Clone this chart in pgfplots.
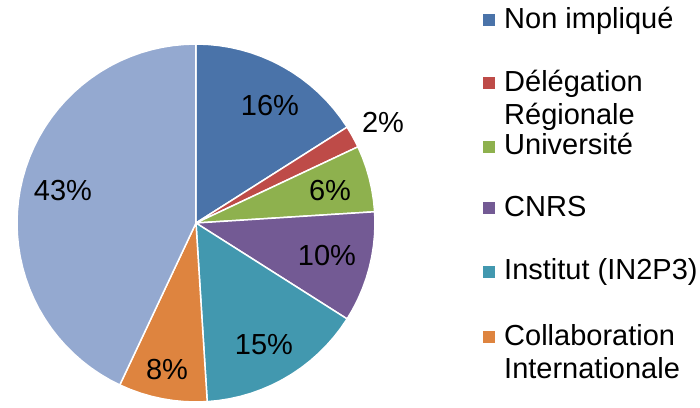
\documentclass[border=0pt]{standalone}
\usepackage{pgfplots}
\pgfplotsset{compat=1.18}
\usepackage{fontspec}
\setmainfont{Liberation Sans}
\definecolor{cA}{HTML}{4A73A9}
\definecolor{cB}{HTML}{BE4B48}
\definecolor{cC}{HTML}{8EB14E}
\definecolor{cD}{HTML}{735A94}
\definecolor{cE}{HTML}{4298AF}
\definecolor{cF}{HTML}{DE843F}
\definecolor{cG}{HTML}{94A9D0}
\begin{document}
\begin{tikzpicture}
\begin{axis}[
  x=179pt, y=179pt,
  xmin=-1.095, xmax=2.816, ymin=-1.028, ymax=1.246,
  hide axis, clip=false,
  every axis plot/.append style={data cs=polar, draw=white, line width=1.5pt, line join=round},
]
% Non implique 16%
\addplot[fill=cA] coordinates {(0,0) (90,1) (86.4,1) (82.8,1) (79.2,1) (75.6,1) (72,1) (68.4,1) (64.8,1) (61.2,1) (57.6,1) (54,1) (50.4,1) (46.8,1) (43.2,1) (39.6,1) (36,1) (32.4,1)} --cycle;
% Delegation Regionale 2%
\addplot[fill=cB] coordinates {(0,0) (32.4,1) (28.8,1) (25.2,1)} --cycle;
% Universite 6%
\addplot[fill=cC] coordinates {(0,0) (25.2,1) (21.6,1) (18,1) (14.4,1) (10.8,1) (7.2,1) (3.6,1)} --cycle;
% CNRS 10%
\addplot[fill=cD] coordinates {(0,0) (3.6,1) (0,1) (-3.6,1) (-7.2,1) (-10.8,1) (-14.4,1) (-18,1) (-21.6,1) (-25.2,1) (-28.8,1) (-32.4,1)} --cycle;
% Institut 15%
\addplot[fill=cE] coordinates {(0,0) (-32.4,1) (-36,1) (-39.6,1) (-43.2,1) (-46.8,1) (-50.4,1) (-54,1) (-57.6,1) (-61.2,1) (-64.8,1) (-68.4,1) (-72,1) (-75.6,1) (-79.2,1) (-82.8,1) (-86.4,1)} --cycle;
% Collaboration Internationale 8%
\addplot[fill=cF] coordinates {(0,0) (-86.4,1) (-90,1) (-93.6,1) (-97.2,1) (-100.8,1) (-104.4,1) (-108,1) (-111.6,1) (-115.2,1)} --cycle;
% remaining 43%
\addplot[fill=cG] coordinates {(0,0) (-115.2,1) (-118.8,1) (-122.4,1) (-126,1) (-129.6,1) (-133.2,1) (-136.8,1) (-140.4,1) (-144,1) (-147.6,1) (-151.2,1) (-154.8,1) (-158.4,1) (-162,1) (-165.6,1) (-169.2,1) (-172.8,1) (-176.4,1) (-180,1) (-183.6,1) (-187.2,1) (-190.8,1) (-194.4,1) (-198,1) (-201.6,1) (-205.2,1) (-208.8,1) (-212.4,1) (-216,1) (-219.6,1) (-223.2,1) (-226.8,1) (-230.4,1) (-234,1) (-237.6,1) (-241.2,1) (-244.8,1) (-248.4,1) (-252,1) (-255.6,1) (-259.2,1) (-262.8,1) (-266.4,1) (-270,1)} --cycle;

% percentage labels
\begin{scope}[every node/.style={font=\fontsize{29}{33}\selectfont, inner sep=0pt}]
\node at (axis cs:0.413,0.659) {16\%};
\node at (axis cs:1.045,0.564) {2\%};
\node at (axis cs:0.749,0.184) {6\%};
\node at (axis cs:0.732,-0.179) {10\%};
\node at (axis cs:0.380,-0.682) {15\%};
\node at (axis cs:-0.162,-0.821) {8\%};
\node at (axis cs:-0.743,0.184) {43\%};
\end{scope}

% legend
\begin{scope}[every node/.style={font=\fontsize{29}{33}\selectfont, inner sep=0pt, anchor=base west}]
\fill[cA] (axis cs:1.637,1.134) ++(-6pt,-6pt) rectangle ++(12pt,12pt);
\fill[cB] (axis cs:1.637,0.782) ++(-6pt,-6pt) rectangle ++(12pt,12pt);
\fill[cC] (axis cs:1.637,0.425) ++(-6pt,-6pt) rectangle ++(12pt,12pt);
\fill[cD] (axis cs:1.637,0.084) ++(-6pt,-6pt) rectangle ++(12pt,12pt);
\fill[cE] (axis cs:1.637,-0.274) ++(-6pt,-6pt) rectangle ++(12pt,12pt);
\fill[cF] (axis cs:1.637,-0.637) ++(-6pt,-6pt) rectangle ++(12pt,12pt);
\node at (axis cs:1.721,1.089) {Non impliqué};
\node at (axis cs:1.721,0.737) {Délégation};
\node at (axis cs:1.721,0.553) {Régionale};
\node at (axis cs:1.721,0.380) {Université};
\node at (axis cs:1.721,0.039) {CNRS};
\node at (axis cs:1.721,-0.318) {Institut (IN2P3)};
\node at (axis cs:1.721,-0.682) {Collaboration};
\node at (axis cs:1.721,-0.866) {Internationale};
\end{scope}
\end{axis}
\pgfresetboundingbox
\useasboundingbox (current axis.south west) rectangle (current axis.north east);
\end{tikzpicture}
\end{document}
